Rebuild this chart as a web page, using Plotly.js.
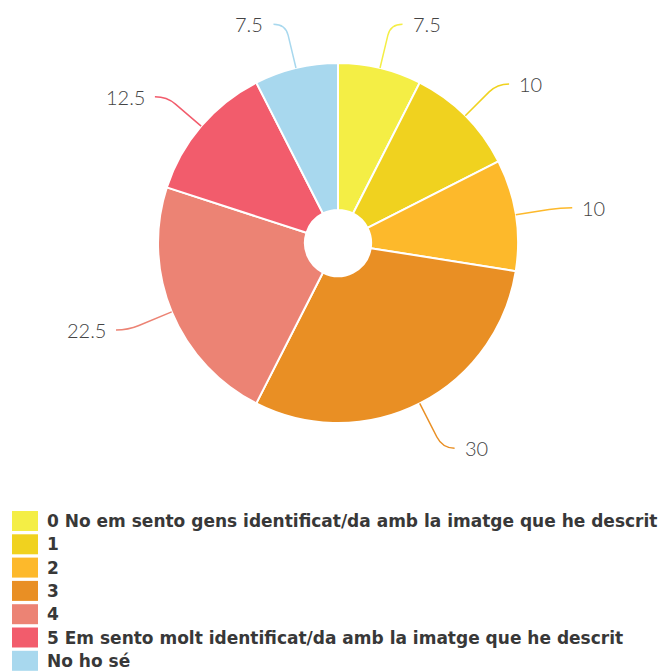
<!DOCTYPE html>
<html>
<head>
<meta charset="utf-8">
<script src="https://cdn.plot.ly/plotly-3.0.1.min.js"></script>
<style>html,body{margin:0;padding:0;background:#fff;}#chart{width:669px;height:672px;}</style>
</head>
<body>
<div id="chart"></div>
<script>
const labels = ['0 No em sento gens identificat/da amb la imatge que he descrit','1','2','3','4','5 Em sento molt identificat/da amb la imatge que he descrit','No ho sé'];
const values = [7.5, 10, 10, 30, 22.5, 12.5, 7.5];
const valueText = ['7.5', '10', '10', '30', '22.5', '12.5', '7.5'];
const colors = ['#F4EE45', '#F0D21F', '#FDB92B', '#E98F24', '#EC8374', '#F25C6C', '#A8D8EE'];

const W = 669, H = 672, CX = 338, CY = 243, R = 180;
const px = x => x / W, py = y => 1 - y / H;

const total = values.reduce((a, b) => a + b, 0);
const shapes = [], annotations = [];
let cum = 0;
values.forEach((v, i) => {
  const th = (cum + v / 2) / total * 2 * Math.PI;
  cum += v;
  const s = Math.sin(th), c = Math.cos(th);
  const d = 45 + 6 * Math.max(0, -c);
  const p0 = [CX + R * s, CY - R * c];
  const e = [CX + (R + d) * s, CY - (R + d) * c];
  const side = s >= 0 ? 1 : -1;
  const p1 = [p0[0] + (e[0] - p0[0]) * 0.75, p0[1] + (e[1] - p0[1]) * 0.75];
  const p2 = [e[0] + side * 12, e[1]];
  shapes.push({
    type: 'path', xref: 'paper', yref: 'paper',
    path: `M ${px(p0[0])} ${py(p0[1])} L ${px(p1[0])} ${py(p1[1])} Q ${px(e[0])} ${py(e[1])} ${px(p2[0])} ${py(p2[1])}`,
    line: {color: colors[i], width: 1.5}
  });
  annotations.push({
    xref: 'paper', yref: 'paper', x: px(p2[0] + side * 8), y: py(e[1]),
    xanchor: side > 0 ? 'left' : 'right', yanchor: 'middle', showarrow: false,
    text: valueText[i], font: {family: 'Lato, sans-serif', size: 20, color: '#444', weight: 300}
  });
});

// legend drawn from the label/colour arrays
labels.forEach((lab, i) => {
  const y0 = 511 + i * 23.3;
  shapes.push({type: 'rect', xref: 'paper', yref: 'paper', x0: px(12), x1: px(38), y0: py(y0), y1: py(y0 + 20),
    fillcolor: colors[i], line: {width: 0}});
  annotations.push({xref: 'paper', yref: 'paper', x: px(45), y: py(y0 + 10), xanchor: 'left', yanchor: 'middle',
    showarrow: false, text: lab, font: {family: 'DejaVu Sans, sans-serif', size: 17, color: '#383838', weight: 700}});
});

const trace = {
  type: 'pie', labels: labels, values: values, sort: false, direction: 'clockwise', rotation: 0,
  hole: 0.184, textinfo: 'none', textposition: 'none', hoverinfo: 'none', showlegend: false,
  marker: {colors: colors, line: {color: '#fff', width: 2}},
  domain: {x: [px(CX - R), px(CX + R)], y: [py(CY + R), py(CY - R)]}
};

Plotly.newPlot('chart', [trace], {
  width: W, height: H, margin: {l: 0, r: 0, t: 0, b: 0},
  paper_bgcolor: '#fff', plot_bgcolor: '#fff', showlegend: false,
  shapes: shapes, annotations: annotations
}, {displayModeBar: false, staticPlot: true});
</script>
</body>
</html>
